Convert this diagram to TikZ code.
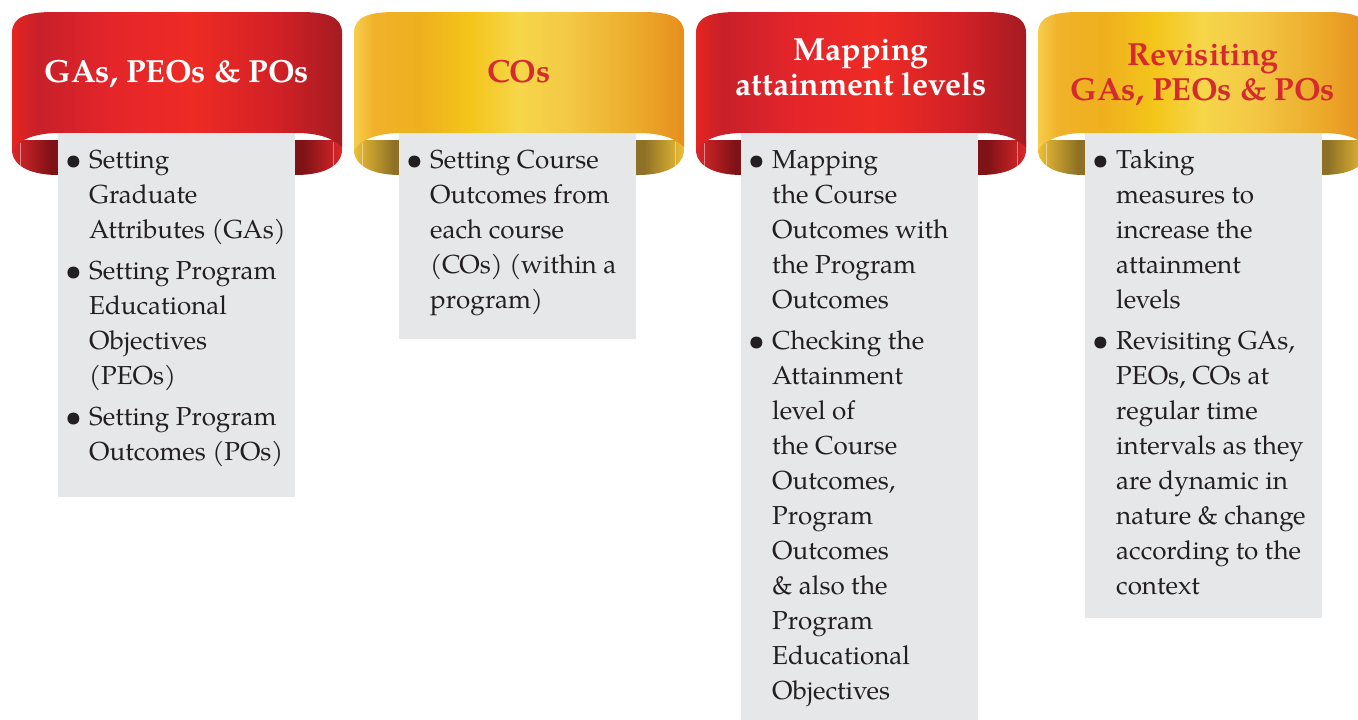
\documentclass[tikz,border=0pt]{standalone}
\usepackage{fontspec}
\setmainfont{texgyrepagella}[Extension=.otf, UprightFont=*-regular, BoldFont=*-bold, ItalicFont=*-italic, BoldItalicFont=*-bolditalic]
\definecolor{rfA}{HTML}{E52521}
\definecolor{rfB}{HTML}{C8202A}
\definecolor{rfC}{HTML}{E4252A}
\definecolor{rfD}{HTML}{EE2B24}
\definecolor{rfE}{HTML}{D22126}
\definecolor{rfF}{HTML}{A51B22}
\definecolor{riA}{HTML}{DB272B}
\definecolor{riB}{HTML}{7E1216}
\definecolor{yfA}{HTML}{F7CD4C}
\definecolor{yfB}{HTML}{F0B22A}
\definecolor{yfC}{HTML}{EFB01F}
\definecolor{yfD}{HTML}{F4C51A}
\definecolor{yfE}{HTML}{F6D64A}
\definecolor{yfF}{HTML}{F3C845}
\definecolor{yfG}{HTML}{ECAB2B}
\definecolor{yfH}{HTML}{E68F1E}
\definecolor{yiA}{HTML}{EEBF35}
\definecolor{yiB}{HTML}{8E7126}
\definecolor{boxgray}{HTML}{E6E7E8}
\definecolor{bodytext}{HTML}{231F20}
\definecolor{titlered}{HTML}{D52B2E}
\pgfdeclarehorizontalshading{redfront}{100bp}{color(0bp)=(rfA); color(25bp)=(rfA); color(29bp)=(rfB); color(40bp)=(rfC); color(52bp)=(rfD); color(65bp)=(rfE); color(75bp)=(rfF); color(100bp)=(rfF)}
\pgfdeclarehorizontalshading{redinner}{100bp}{color(0bp)=(riA); color(25bp)=(riA); color(31bp)=(riB); color(69bp)=(riB); color(75bp)=(riA); color(100bp)=(riA)}
\pgfdeclarehorizontalshading{yellowfront}{100bp}{color(0bp)=(yfA); color(25bp)=(yfA); color(28bp)=(yfB); color(35bp)=(yfC); color(42.5bp)=(yfD); color(50bp)=(yfE); color(57.5bp)=(yfF); color(67.5bp)=(yfG); color(75bp)=(yfH); color(100bp)=(yfH)}
\pgfdeclarehorizontalshading{yellowinner}{100bp}{color(0bp)=(yiA); color(25bp)=(yiA); color(31bp)=(yiB); color(69bp)=(yiB); color(75bp)=(yiA); color(100bp)=(yiA)}
\newcommand\bul{\makebox[31pt][l]{\hspace{7pt}\raisebox{-0.9pt}{\scalebox{1.15}{\textbullet}}}\strut}
\newcommand\ind{\hspace*{31pt}\strut}
\newcommand\ribbon[3]{%
  \begin{scope}[xshift=#1pt]
    \shade[shading=#3] (0,140) -- (0,152) .. controls (2,167) and (20,175) .. (46,175) -- (284,175) .. controls (310,175) and (328,167) .. (330,152) -- (330,140) -- cycle;
    \draw[white, opacity=.45, line width=.6pt] (8,143) -- (8,170) (321,142) -- (321,167);
    \shade[shading=#2] (0,33) .. controls (0,17) and (14,12) .. (42,12) -- (288,12) .. controls (316,12) and (330,17) .. (330,33) -- (330,147) .. controls (322,139) and (308,133) .. (284,133) -- (46,133) .. controls (24,133) and (6,140) .. (0,150) -- cycle;
  \end{scope}}
\tikzset{
  graybox/.style={fill=boxgray, draw=none, minimum width=237pt, anchor=north west, inner sep=0pt},
  body/.style={anchor=north west, inner sep=0pt, align=left, text=bodytext, font=\fontsize{26}{35}\selectfont},
  title/.style={anchor=north, inner sep=0pt, align=center, font=\bfseries\fontsize{32}{35}\selectfont}
}
\begin{document}
\begin{tikzpicture}[x=1pt, y=-1pt]
\useasboundingbox (0,0) rectangle (1358,720);
\clip (0,0) rectangle (1358,720);
\ribbon{12}{redfront}{redinner}
\ribbon{354}{yellowfront}{yellowinner}
\ribbon{696}{redfront}{redinner}
\ribbon{1038}{yellowfront}{yellowinner}
\node[graybox, minimum height=364pt] (b1) at (58,133) {};
\node[graybox, minimum height=206pt] (b2) at (399,133) {};
\node[graybox, minimum height=600pt] (b3) at (741,133) {};
\node[graybox, minimum height=485pt] (b4) at (1085,133) {};
\node[title, text=white] (h1) at (177,57.5) {\strut GAs, PEOs \& POs};
\node[title, text=titlered] (h2) at (519,57.5) {\strut COs};
\node[title, text=white] (h3) at (861,35.5) {\strut Mapping\\\strut attainment levels};
\node[title, text=titlered] (h4) at (1203,40.5) {\strut Revisiting\\\strut GAs, PEOs \& POs};
\node[body] (t1) at (58,143.5) {\bul Setting\\\ind Graduate\\\ind Attributes (GAs)\\[6pt]\bul Setting Program\\\ind Educational\\\ind Objectives\\\ind (PEOs)\\[6pt]\bul Setting Program\\\ind Outcomes (POs)};
\node[body] (t2) at (399,143.5) {\bul Setting Course\\\ind Outcomes from\\\ind each course\\\ind (COs) (within a\\\ind program)};
\node[body] (t3) at (741,143.5) {\bul Mapping\\\ind the Course\\\ind Outcomes with\\\ind the Program\\\ind Outcomes\\[6pt]\bul Checking the\\\ind Attainment\\\ind level of\\\ind the Course\\\ind Outcomes,\\\ind Program\\\ind Outcomes\\\ind \& also the\\\ind Program\\\ind Educational\\\ind Objectives};
\node[body] (t4) at (1085,143.5) {\bul Taking\\\ind measures to\\\ind increase the\\\ind attainment\\\ind levels\\[6pt]\bul Revisiting GAs,\\\ind PEOs, COs at\\\ind regular time\\\ind intervals as they\\\ind are dynamic in\\\ind nature \& change\\\ind according to the\\\ind context};
\end{tikzpicture}
\end{document}
